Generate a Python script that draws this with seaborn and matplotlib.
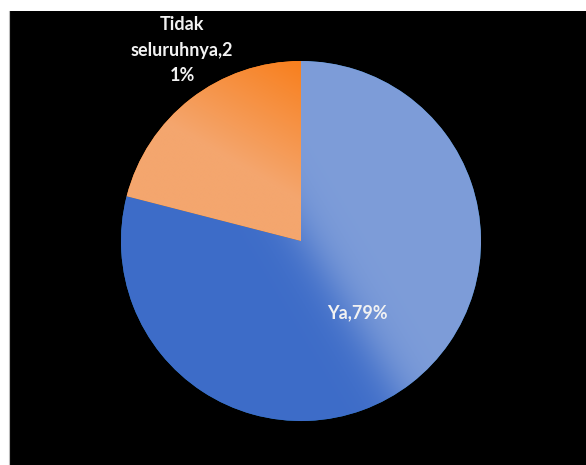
import numpy as np
import matplotlib
matplotlib.use('Agg')
import matplotlib.pyplot as plt
from matplotlib.colors import to_rgb
import seaborn as sns

# data
categories = ['Ya', 'Tidak seluruhnya']
values = [79, 21]
labels = ['Ya,79%', 'Tidak\nseluruhnya,2\n1%']

# gradient end colours per slice (dark/strong end, light end)
blue_dark, blue_light = '#3d6cc8', '#7e9dd9'
orange_strong, orange_light = '#f8801f', '#f4a66e'

sns.set_style('white')
plt.rcParams['font.family'] = ['Lato', 'DejaVu Sans']

W, H = 586, 465
fig = plt.figure(figsize=(W / 100, H / 100), dpi=100, facecolor='white')

# black panel
bg = fig.add_axes([9 / W, 0, (W - 9) / W + 0.01, (H - 11) / H])
bg.set_facecolor('black')
bg.set_xticks([])
bg.set_yticks([])
for s in bg.spines.values():
    s.set_visible(False)
bg.spines['left'].set_visible(True)
bg.spines['left'].set_color('#bbbbbb')
bg.spines['left'].set_linewidth(0.8)

# pie axes: centre (301, 241) px from top, radius 180 px
cx, cy, r = 301, 241, 180
ax = fig.add_axes([(cx - r) / W, (H - cy - r) / H, 2 * r / W, 2 * r / H])
wedges, _ = ax.pie(values, startangle=90, counterclock=False)
ax.set_xlim(-1, 1)
ax.set_ylim(-1, 1)
ax.axis('off')

g = np.linspace(-1, 1, 500)
X, Y = np.meshgrid(g, g)


def blend(c1, c2, t):
    a, b = np.array(to_rgb(c1)), np.array(to_rgb(c2))
    t = np.clip(t, 0, 1)[..., None]
    return a * (1 - t) + b * t


# blue: dark lower-left -> light upper-right
tb = 0.857 * (X - 0.094) + 0.516 * (Y + 0.106)
tb = 1 / (1 + np.exp(-tb / 0.07))
img_b = blend(blue_dark, blue_light, tb)
# orange: light lower-left -> strong upper-right
to = 0.5 * X + 0.866 * Y
to = (to - 0.2) / 0.65
img_o = blend(orange_light, orange_strong, to)

for w, img in zip(wedges, [img_b, img_o]):
    w.set_edgecolor('none')
    im = ax.imshow(img, extent=(-1, 1, -1, 1), origin='lower', zorder=2)
    im.set_clip_path(w)

ax.set_xlim(-1, 1)
ax.set_ylim(-1, 1)

# labels, placed in data coords
label_pos = [(0.311, -0.40), (-0.661, 1.061)]
for lab, (x, y) in zip(labels, label_pos):
    ax.text(x, y, lab, ha='center', va='center', color='#f2f2f2',
            fontsize=13, fontweight='bold', linespacing=1.6,
            zorder=5, clip_on=False)

fig.savefig('out.png', dpi=100, facecolor='white')
